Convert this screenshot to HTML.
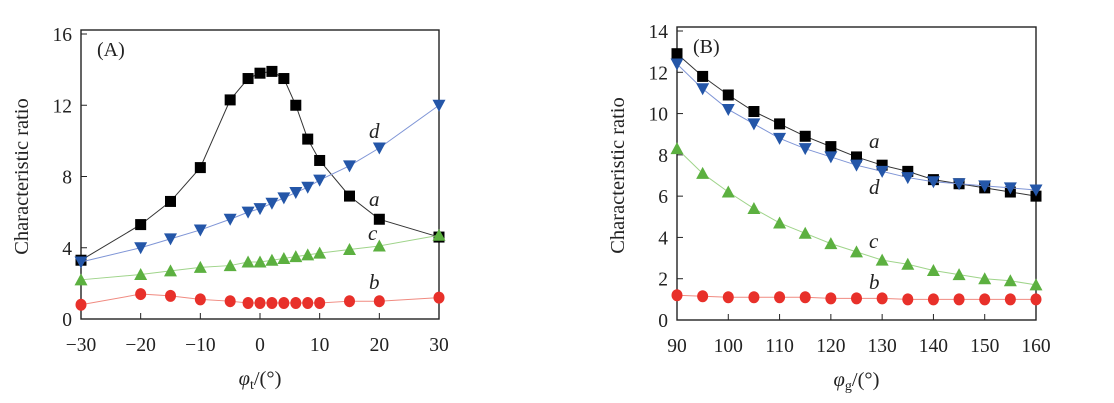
<!DOCTYPE html>
<html><head><meta charset="utf-8"><style>
body{margin:0;background:#fff}
svg{display:block;font-family:"Liberation Serif",serif}
</style></head><body>
<svg id="s" width="1114" height="403" viewBox="0 0 1114 403"></svg>
<script>
const xA=[-30,-20,-15,-10,-5,-2,0,2,4,6,8,10,15,20,30];
const aA=[3.3,5.3,6.6,8.5,12.3,13.5,13.8,13.9,13.5,12.0,10.1,8.9,6.9,5.6,4.6];
const dA=[3.2,4.0,4.5,5.0,5.6,6.0,6.2,6.5,6.8,7.1,7.4,7.8,8.6,9.6,12.0];
const cA=[2.2,2.5,2.7,2.9,3.0,3.2,3.2,3.3,3.4,3.5,3.6,3.7,3.9,4.1,4.7];
const bA=[0.8,1.4,1.3,1.1,1.0,0.9,0.9,0.9,0.9,0.9,0.9,0.9,1.0,1.0,1.2];
const xB=[90,95,100,105,110,115,120,125,130,135,140,145,150,155,160];
const aB=[12.9,11.8,10.9,10.1,9.5,8.9,8.4,7.9,7.5,7.2,6.8,6.6,6.4,6.2,6.0];
const dB=[12.4,11.2,10.2,9.5,8.8,8.3,7.9,7.5,7.2,6.9,6.7,6.6,6.5,6.4,6.3];
const cB=[8.3,7.1,6.2,5.4,4.7,4.2,3.7,3.3,2.9,2.7,2.4,2.2,2.0,1.9,1.7];
const bB=[1.2,1.15,1.1,1.1,1.1,1.1,1.05,1.05,1.05,1.0,1.0,1.0,1.0,1.0,1.0];
const xTicksA=[-30,-20,-10,0,10,20,30];
const yTicksA=[0,4,8,12,16];
const xTicksB=[90,100,110,120,130,140,150,160];
const yTicksB=[0,2,4,6,8,10,12,14];
const NS="http://www.w3.org/2000/svg";
const svg=document.getElementById('s');
function el(t,a,p){const e=document.createElementNS(NS,t);for(const k in a)e.setAttribute(k,a[k]);(p||svg).appendChild(e);return e;}
const C={a:['#000','#333'],d:['#2456a8','#7f95d6'],c:['#5cb040','#9fd48a'],b:['#e8302a','#f08a80']};
function panel(id,L,R,T,B,xmin,xmax,ymin,ymax,xt,yt,series,labels,sub){
  const g=el('g',{});
  
  
  const X=v=>L+(v-xmin)/(xmax-xmin)*(R-L);
  const Y=v=>B-(v-ymin)/(ymax-ymin)*(B-T);
  const f=el('rect',{x:L,y:T-4,width:R-L,height:B-T+4,fill:'none',stroke:'#222','stroke-width':1.4},g);
  
  xt.forEach(v=>{el('line',{x1:X(v),x2:X(v),y1:B,y2:B-6,stroke:'#222'},g);
    const t=el('text',{x:X(v),y:B+32,'font-size':19.5,'text-anchor':'middle',fill:'#222'},g);t.textContent=v<0?'\u2212'+(-v):v;
    });
  yt.forEach(v=>{el('line',{x1:L,x2:L+6,y1:Y(v),y2:Y(v),stroke:'#222'},g);
    const t=el('text',{x:L-9,y:Y(v)+7,'font-size':19.5,'text-anchor':'end',fill:'#222'},g);t.textContent=v;
    });
  series.forEach(([k,xs,ys])=>{
    const pl=el('polyline',{points:xs.map((x,i)=>X(x)+','+Y(ys[i])).join(' '),fill:'none',stroke:C[k][1],'stroke-width':1},g);
    
    xs.forEach((x,i)=>{const px=X(x),py=Y(ys[i]);let m;
      if(k=='a')m=el('rect',{x:px-5.5,y:py-5.5,width:11,height:11,fill:C[k][0]},g);
      else if(k=='b')m=el('ellipse',{cx:px,cy:py,rx:5.5,ry:6,fill:C[k][0]},g);
      else if(k=='c')m=el('polygon',{points:`${px},${py-6.5} ${px-6.5},${py+5.5} ${px+6.5},${py+5.5}`,fill:C[k][0]},g);
      else m=el('polygon',{points:`${px-6.5},${py-5.5} ${px+6.5},${py-5.5} ${px},${py+6.5}`,fill:C[k][0]},g);
      });
  });
  labels.forEach(([s,x,y])=>{const t=el('text',{x:x,y:y,'font-size':21,'font-style':'italic',fill:'#222'},g);t.textContent=s;
    });
  const pt=el('text',{x:L+16,y:T+22,'font-size':20,fill:'#222'},g);pt.textContent='('+id+')';
  
  const yl=el('text',{transform:`translate(${L-53},${(T+B)/2}) rotate(-90)`,'font-size':20.5,'text-anchor':'middle',fill:'#222'},g);yl.textContent='Characteristic ratio';
  
  const xl=el('text',{x:(L+R)/2,y:B+66,'font-size':20.5,'text-anchor':'middle',fill:'#222'},g);
  
  const t1=el('tspan',{'font-style':'italic'},xl);t1.textContent='\u03c6';
  const t2=el('tspan',{'font-size':14,dy:4},xl);t2.textContent=sub;
  const t3=el('tspan',{dy:-4},xl);t3.textContent='/(\u00b0)';
}
panel('A',81,439,34,319,-30,30,0,16,xTicksA,yTicksA,[['a',xA,aA],['d',xA,dA],['c',xA,cA],['b',xA,bA]],[['d',369,138],['a',369,206],['c',368,240],['b',369,289]],'t');
panel('B',677,1036,31,320,90,160,0,14,xTicksB,yTicksB,[['a',xB,aB],['d',xB,dB],['c',xB,cB],['b',xB,bB]],[['a',869,148],['d',869,194],['c',869,248],['b',869,289]],'g');
</script>
</body></html>
